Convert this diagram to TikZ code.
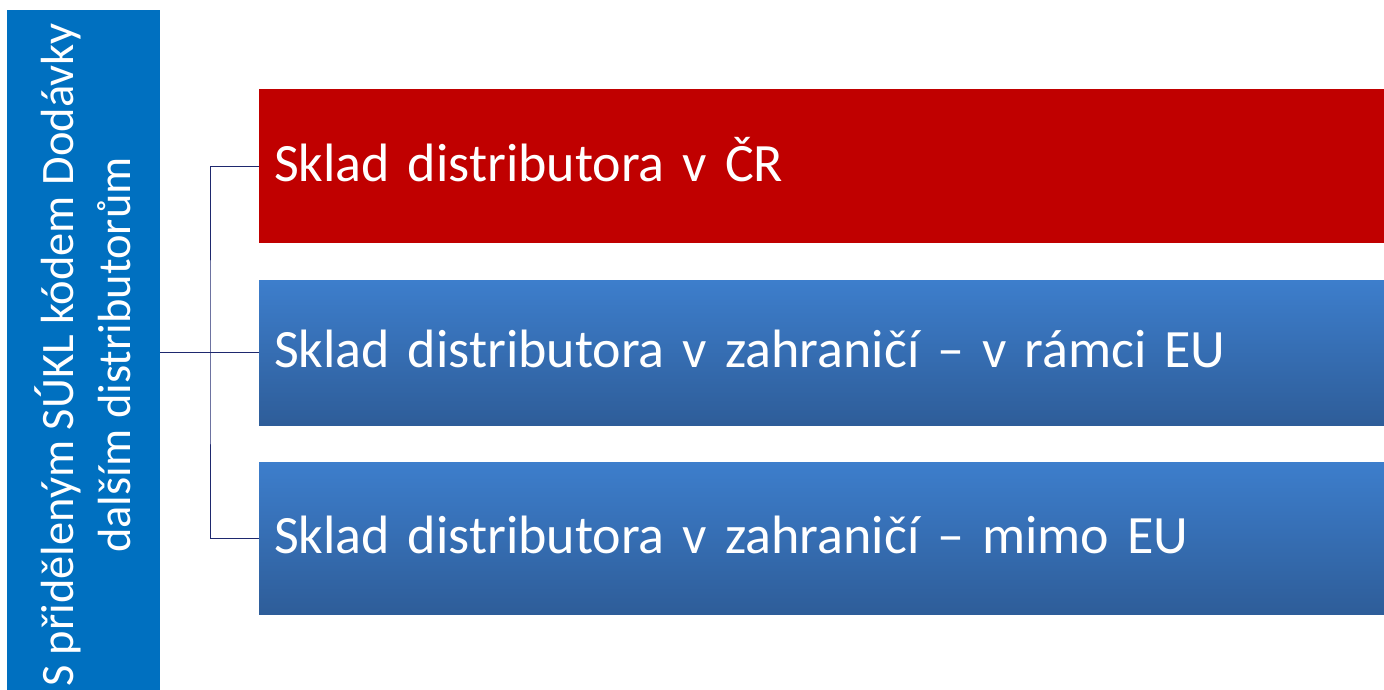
\documentclass[tikz,border=0pt]{standalone}
\usepackage{fontspec}
\setmainfont{Carlito}
\definecolor{barblue}{HTML}{0070C0}
\definecolor{boxred}{HTML}{C00000}
\definecolor{gtop}{RGB}{61,126,204}
\definecolor{gbot}{RGB}{46,93,153}
\definecolor{linecol}{RGB}{30,40,110}
\begin{document}
\begin{tikzpicture}[x=1pt,y=-1pt,
  box/.style={anchor=north west,minimum width=1125pt,inner sep=0pt,outer sep=0pt,
    text=white,font=\fontsize{54}{60}\selectfont,align=left,text width=1125pt,
    text height=30pt,text depth=0pt},
  redbox/.style={box,fill=boxred},
  bluebox/.style={box,top color=gtop,bottom color=gbot},
  conn/.style={draw=linecol,line width=1pt}]
\useasboundingbox (0,0) rectangle (1384,690);
\node[anchor=north west,fill=barblue,minimum width=153pt,minimum height=680pt,inner sep=0pt,outer sep=0pt] (bar) at (7,10) {};
\node[rotate=90,text=white,font=\fontsize{46.5}{57}\selectfont,align=center] (bartext) at ([xshift=-1pt,yshift=-5pt]bar.center) {S přiděleným SÚKL kódem Dodávky\\dalším distributorům};
\node[redbox,minimum height=154pt] (b1) at (259,89) {\hspace*{15pt}Sklad distributora v ČR};
\node[bluebox,minimum height=145pt] (b2) at (259,280) {\hspace*{15pt}Sklad distributora v zahraničí – v rámci EU};
\node[bluebox,minimum height=152pt] (b3) at (259,462) {\hspace*{15pt}Sklad distributora v zahraničí – mimo EU};
\coordinate (j) at (210,352);
\draw[conn] (bar.east |- j) -- (b2.west |- j);
\draw[conn] (b1.west) -| (j) |- (b3.west);
\end{tikzpicture}
\end{document}
